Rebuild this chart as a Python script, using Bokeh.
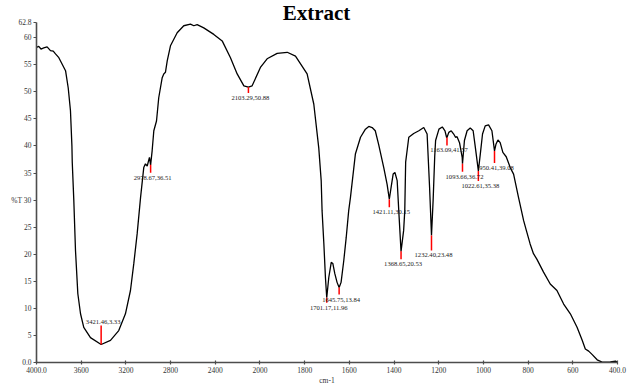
from bokeh.plotting import figure
from bokeh.models import Range1d, FixedTicker, ColumnDataSource
from bokeh.core.properties import value
from bokeh.embed import file_html
from bokeh.resources import INLINE

# ---------------- data ----------------
wavenumber = [4000, 3980, 3960, 3935, 3905, 3875, 3850, 3830, 3800, 3785, 3740, 3716,
              3696, 3683, 3680, 3666, 3651, 3630, 3606, 3577, 3517, 3421.46, 3338, 3264,
              3204, 3159, 3129, 3099, 3069, 3040, 3025, 3009, 2989, 2978.67, 2965, 2950,
              2926, 2906, 2875, 2861, 2846, 2830, 2801, 2741, 2682, 2622, 2592, 2562,
              2503, 2413, 2338, 2264, 2204, 2144, 2103.29, 2070, 1998, 1968, 1923, 1878,
              1841, 1789, 1759, 1737, 1726, 1722, 1714, 1707, 1701.17, 1692, 1681, 1674,
              1665, 1655, 1645.75, 1637, 1625, 1614, 1603, 1595, 1573, 1550, 1528, 1513,
              1498, 1484, 1469, 1446, 1431, 1421.11, 1413, 1404, 1396, 1386, 1378,
              1368.65, 1357, 1352, 1348, 1334, 1312, 1289, 1267, 1252, 1241, 1232.40,
              1225, 1218, 1214, 1199, 1184, 1172, 1165, 1163.09, 1155, 1144, 1133, 1125,
              1118, 1107, 1095, 1093.66, 1085, 1073, 1059, 1046, 1036, 1022.61, 1014,
              1004, 992, 977, 962, 950.41, 944, 935, 925, 913, 898, 880, 865, 843, 820,
              808, 791, 776, 761, 731, 701, 671, 641, 611, 581, 558, 544, 529, 514, 491,
              469, 432, 409, 400]
transmittance = [58.2, 58.4, 57.9, 58.1, 58.3, 57.6, 57.5, 57.0, 56.3, 55.7, 53.9, 50.7,
                 46.5, 40.0, 37.0, 29.9, 20.7, 12.7, 9.0, 6.5, 4.6, 3.33, 4.1, 5.9,
                 9.0, 13.3, 18.3, 23.8, 30.4, 36.0, 36.7, 36.3, 37.9, 36.51, 39.1, 42.8,
                 44.6, 48.9, 52.6, 53.3, 53.6, 55.7, 58.5, 60.9, 62.2, 62.5, 62.2, 62.4,
                 61.8, 60.6, 59.4, 56.3, 53.3, 51.1, 50.88, 51.1, 54.5, 56.1, 57.1, 57.3,
                 56.6, 53.3, 47.7, 39.7, 33.6, 28.0, 21.9, 15.7, 11.96, 15.7, 18.5, 18.3,
                 16.4, 14.8, 13.84, 14.8, 18.8, 23.1, 28.0, 30.5, 38.5, 41.6, 43.1, 43.6,
                 43.4, 42.8, 40.3, 36.0, 32.9, 30.15, 32.4, 34.8, 35.1, 33.6, 27.4,
                 20.53, 24.4, 28.0, 37.0, 41.6, 42.3, 42.8, 43.4, 42.2, 32.4, 23.48,
                 30.0, 38.0, 41.0, 43.1, 43.5, 42.8, 41.6, 41.57, 42.5, 42.8, 42.2, 41.6,
                 41.7, 40.6, 37.9, 36.72, 41.0, 42.8, 43.3, 42.8, 39.7, 35.38, 38.5,
                 42.2, 43.7, 43.9, 42.8, 39.08, 40.3, 41.1, 40.6, 38.8, 38.0, 36.0, 34.8, 30.5, 26.2,
                 24.4, 21.9, 20.1, 19.1, 16.7, 14.5, 13.3, 10.8, 9.0, 6.5, 4.1, 2.5, 2.1, 1.5, 0.5,
                 0.06, 0.1, 0.25, 0.05]

peak_wn = [3421.46, 2978.67, 2103.29, 1701.17, 1645.75, 1421.11, 1368.65, 1232.40,
           1163.09, 1093.66, 1022.61, 950.41]
peak_T = [3.33, 36.51, 50.88, 11.96, 13.84, 30.15, 20.53, 23.48, 41.57, 36.72, 35.38, 39.08]
# marker length in px (positive = drawn downward, negative = upward)
mark_len_px = [-19, 8, 6, 5, 7, 8, 8, 15, 8, 8, 10, 12]

x_tick_labels = ["4000.0", "3600", "3200", "2800", "2400", "2000", "1800", "1600",
                 "1400", "1200", "1000", "800", "600", "400.0"]
y_tick_vals = [0, 5, 10, 15, 20, 25, 30, 35, 40, 45, 50, 55, 60, 62.8]
y_tick_labels = ["0.0", "5", "10", "15", "20", "25", "%T 30", "35", "40", "45", "50",
                 "55", "60", "62.8"]

title_text = "Extract"
x_title = "cm-1"


# ---- FTIR axis: 4000-2000 at 400 per division, 2000-400 at 200 per division ----
def wn_to_u(w):
    return (4000.0 - w) / 400.0 if w >= 2000 else 5.0 + (2000.0 - w) / 200.0


Y_MAX = 62.8
AXIS_H = 340          # px between 0 and 62.8
TOP_PAD = 22          # px above 62.8 (room for the title, inside the frame)
PPU = AXIS_H / Y_MAX  # pixels per %T unit
PPX = 581 / 13        # pixels per x division

p = figure(width=632, height=387, output_backend="svg", toolbar_location=None,
           x_range=Range1d(0, 13), y_range=Range1d(0, Y_MAX + TOP_PAD / PPU),
           min_border_left=36, min_border_right=15, min_border_top=0,
           min_border_bottom=25, outline_line_color=None)
p.grid.visible = False

u = [wn_to_u(w) for w in wavenumber]
p.line(u, transmittance, line_color="black", line_width=1.3)

pu = [wn_to_u(w) for w in peak_wn]
end_T = [t - m / PPU for t, m in zip(peak_T, mark_len_px)]
p.segment(x0=pu, y0=peak_T, x1=pu, y1=end_T, line_color="#ff0000", line_width=1.5)

labels = [f"{w:.2f},{t:.2f}" for w, t in zip(peak_wn, peak_T)]
below = ColumnDataSource(dict(x=[a for a, m in zip(pu, mark_len_px) if m > 0],
                              y=[a for a, m in zip(end_T, mark_len_px) if m > 0],
                              t=[a for a, m in zip(labels, mark_len_px) if m > 0]))
above = ColumnDataSource(dict(x=[a for a, m in zip(pu, mark_len_px) if m < 0],
                              y=[a for a, m in zip(end_T, mark_len_px) if m < 0],
                              t=[a for a, m in zip(labels, mark_len_px) if m < 0]))
common = dict(text_font=value("Liberation Serif"), text_font_size=value("6.6px"),
              text_color="#222222", text_align="center", text_baseline="middle",
              x_offset=2)
p.text(x="x", y="y", text="t", source=below, y_offset=5, **common)
p.text(x="x", y="y", text="t", source=above, y_offset=-3, **common)

# title: drawn in the top strip of the frame, kept fully inside the page
p.text(x=[(316 - 36) / PPX], y=[Y_MAX + TOP_PAD / PPU], text=[title_text],
       text_font=value("Liberation Serif"), text_font_style="bold",
       text_font_size=value("21px"), text_align="center",
       text_baseline="top", text_color="black")

# axes
for ax in (p.xaxis[0], p.yaxis[0]):
    ax.axis_line_color = "#4d4d4d"
    ax.axis_line_width = 1.6
    ax.major_tick_line_color = "#4d4d4d"
    ax.major_tick_line_width = 1.2
    ax.minor_tick_line_color = None
    ax.major_label_text_font = "Liberation Serif"
    ax.major_label_text_font_size = "7.5px"
    ax.major_label_text_color = "#333333"

p.xaxis.ticker = FixedTicker(ticks=list(range(len(x_tick_labels))))
p.xaxis.major_label_overrides = {i: s for i, s in enumerate(x_tick_labels)}
p.xaxis.major_tick_in = 2
p.xaxis.major_tick_out = 2
p.xaxis.major_label_standoff = 2
p.xaxis.axis_label = x_title
p.xaxis.axis_label_standoff = 0
p.xaxis.axis_label_text_font = "Liberation Serif"
p.xaxis.axis_label_text_font_size = "7.5px"
p.xaxis.axis_label_text_font_style = "normal"
p.xaxis.axis_label_text_color = "#333333"

p.yaxis.ticker = FixedTicker(ticks=y_tick_vals)
p.yaxis.bounds = (0, Y_MAX)
p.yaxis.major_label_overrides = {v: s for v, s in zip(y_tick_vals, y_tick_labels)}
p.yaxis.major_tick_in = 0
p.yaxis.major_tick_out = 3
p.yaxis.major_label_standoff = 2

open("out.html", "w").write(file_html(p, INLINE))
